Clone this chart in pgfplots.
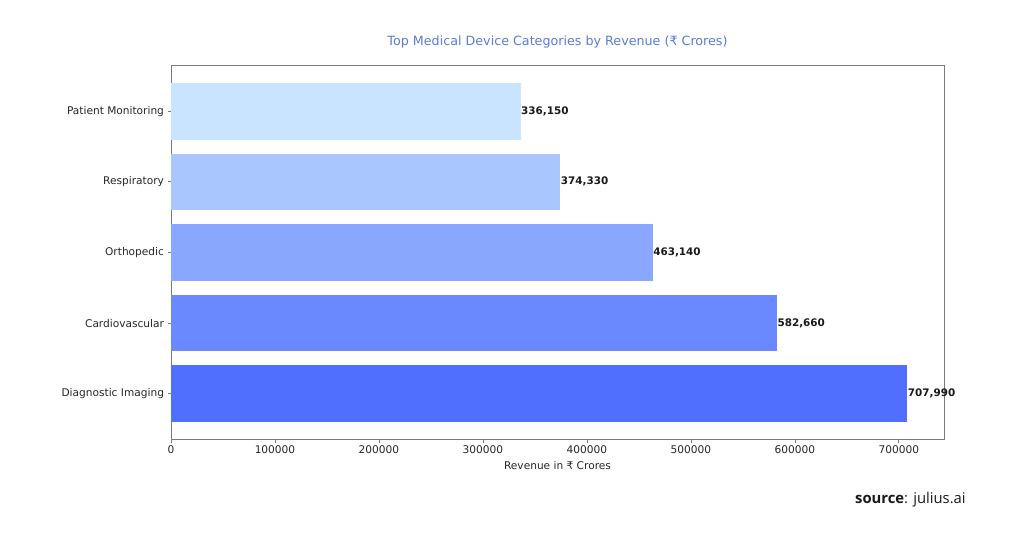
\documentclass[border=0pt]{standalone}
\usepackage{pgfplots}
\pgfplotsset{compat=1.18}
\usepackage{fontspec}
\setmainfont{DejaVu Sans}
\newfontfamily\srcfont{Open Sans}
\definecolor{c1}{HTML}{C9E4FE}
\definecolor{c2}{HTML}{A9C7FE}
\definecolor{c3}{HTML}{8AA7FE}
\definecolor{c4}{HTML}{6A89FE}
\definecolor{c5}{HTML}{506FFE}
\definecolor{titleblue}{HTML}{5B7CD9}
\definecolor{axgray}{HTML}{7A7A7A}
\begin{document}
\begin{tikzpicture}[x=1pt,y=1pt]
\useasboundingbox[fill=white] (0,0) rectangle (1024,538);
\begin{axis}[
  at={(171pt,99pt)}, anchor=south west,
  scale only axis, width=773pt, height=373pt,
  xbar, bar width=56.6pt, bar shift=0pt,
  xmin=0, xmax=743390, ymin=-0.64, ymax=4.64,
  ytick={0,1,2,3,4},
  yticklabels={Diagnostic Imaging,Cardiovascular,Orthopedic,Respiratory,Patient Monitoring},
  xtick={0,100000,200000,300000,400000,500000,600000,700000},
  scaled x ticks=false,
  /pgf/number format/fixed, /pgf/number format/1000 sep={},
  /pgf/number format/assume math mode=true,
  tick label style={font=\fontsize{10.6}{12}\selectfont, text=black!85},
  tick align=outside, major tick length=3.5pt,
  tick style={axgray, line width=0.8pt},
  xtick pos=bottom, ytick pos=left,
  axis line style={axgray, line width=1pt},
  xlabel={Revenue in ₹ Crores},
  xlabel style={font=\fontsize{10.6}{12}\selectfont, text=black!85, yshift=-1pt},
  nodes near coords={\textbf{\pgfplotspointmeta}},
  point meta=explicit symbolic,
  nodes near coords style={anchor=west, inner xsep=0.5pt, font=\fontsize{10.4}{12}\selectfont, text=black!90},
  clip=false,
]
\addplot[fill=c5, draw=none] coordinates {(707990,0) [707,990]};
\addplot[fill=c4, draw=none] coordinates {(582660,1) [582,660]};
\addplot[fill=c3, draw=none] coordinates {(463140,2) [463,140]};
\addplot[fill=c2, draw=none] coordinates {(374330,3) [374,330]};
\addplot[fill=c1, draw=none] coordinates {(336150,4) [336,150]};
\end{axis}
\node[text=titleblue, font=\fontsize{12.7}{15}\selectfont] at (557.5,496) {Top Medical Device Categories by Revenue (₹ Crores)};
\node[anchor=west, font=\srcfont\fontsize{14.8}{17}\selectfont, text=black!90, inner sep=0pt] at (855,38.5) {\textbf{source}: julius.ai};
\end{tikzpicture}
\end{document}
